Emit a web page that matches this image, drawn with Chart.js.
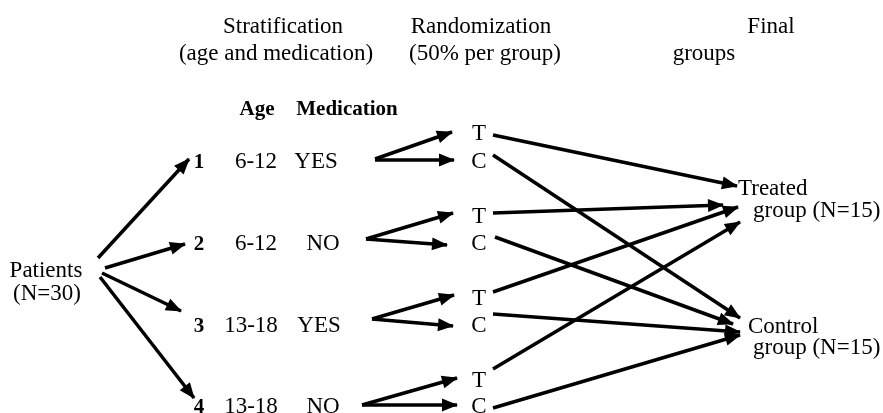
<!DOCTYPE html>
<html>
<head>
<meta charset="utf-8">
<title>Stratified randomization</title>
<script src="https://cdn.jsdelivr.net/npm/chart.js@4/dist/chart.umd.min.js"></script>
<style>
  body { margin: 0; background: #fff; font-family: "Liberation Serif", serif; }
  #wrap { width: 883px; height: 413px; }
  .warm { position: absolute; left: -999px; top: 0; font-family: "Liberation Serif"; }
</style>
</head>
<body>
<span class="warm">Stratification <b>Age</b></span>
<div id="wrap"><canvas id="flow" width="883" height="413"></canvas></div>
<script>
// diagram content
const headerTop = ['Stratification', 'Randomization', 'Final'];
const headerBottom = ['(age and medication)', '(50% per group)', 'groups'];
const columnHeads = ['Age', 'Medication'];
const patients = ['Patients', '(N=30)'];
const strata = ['1', '2', '3', '4'];
const ageGroups = ['6-12', '6-12', '13-18', '13-18'];
const medication = ['YES', 'NO', 'YES', 'NO'];
const arms = ['T', 'C'];
const finalGroups = [['Treated', 'group (N=15)'], ['Control', 'group (N=15)']];

// layout in diagram units (x 0..883, y 0..413 from top)
const headerX = [[283, 276], [481, 485], [771, 704]];
const headerY = [33, 60];
const columnHeadX = [257, 347];
const columnHeadY = 115;
const patientsX = [46, 47];
const patientsY = [277, 300];
const stratumX = 199;
const ageX = [256, 256, 251, 251];
const medX = [316, 323, 319, 323];
const rowY = [168, 250, 332, 413];
const armX = 479;
const armY = [[140, 168], [223, 250], [305, 332], [387, 413]];
const finalX = [[738, 753], [748, 753]];
const finalY = [[195, 217], [333, 354]];

// arrows: [from, to]
const patientArrows = [
  [[98, 258], [189, 159]],
  [[105, 268], [185, 244]],
  [[102, 273], [181, 311]],
  [[100, 277], [194, 398]]
];
const splitArrows = [
  [[375, 159], [452, 132]], [[375, 160], [454, 160]],
  [[366, 239], [453, 213]], [[366, 239], [447, 245]],
  [[372, 319], [454, 295]], [[372, 319], [453, 326]],
  [[362, 405], [457, 378]], [[362, 405], [457, 405]]
];
const finalArrows = [
  [[493, 135], [737, 186]], [[493, 155], [740, 318]],
  [[493, 213], [723, 205]], [[495, 237], [733, 324]],
  [[493, 292], [738, 207]], [[493, 314], [740, 332]],
  [[493, 369], [740, 222]], [[493, 408], [740, 335]]
];

const allArrows = patientArrows.concat(splitArrows, finalArrows);

const datasets = allArrows.map(a => ({
  data: [{ x: a[0][0], y: a[0][1] }, { x: a[1][0], y: a[1][1] }],
  showLine: true,
  borderColor: '#000',
  borderWidth: 3.5,
  pointRadius: 0,
  borderCapStyle: 'butt'
}));

// arrow heads at the end of every line
const arrowHeads = {
  id: 'arrowHeads',
  afterDatasetsDraw(chart) {
    const ctx = chart.ctx;
    chart.data.datasets.forEach((ds, i) => {
      const pts = chart.getDatasetMeta(i).data;
      const p0 = pts[0], p1 = pts[1];
      const ang = Math.atan2(p1.y - p0.y, p1.x - p0.x);
      const len = 15, half = 6.5;
      ctx.save();
      ctx.translate(p1.x, p1.y);
      ctx.rotate(ang);
      ctx.fillStyle = '#000';
      ctx.beginPath();
      ctx.moveTo(1, 0);
      ctx.lineTo(-len, -half);
      ctx.lineTo(-len, half);
      ctx.closePath();
      ctx.fill();
      ctx.restore();
    });
  }
};

// all the text of the diagram
const labels = {
  id: 'labels',
  afterDatasetsDraw(chart) {
    const ctx = chart.ctx;
    const sx = v => chart.scales.x.getPixelForValue(v);
    const sy = v => chart.scales.y.getPixelForValue(v);
    const normal = '23px "Liberation Serif", "Times New Roman", "DejaVu Serif", serif';
    const bold = 'bold 21px "Liberation Serif", "Times New Roman", "DejaVu Serif", serif';
    const put = (t, x, y, font, align) => {
      ctx.font = font;
      ctx.textAlign = align || 'center';
      ctx.fillText(t, sx(x), sy(y));
    };
    ctx.save();
    ctx.fillStyle = '#000';
    ctx.textBaseline = 'alphabetic';

    headerTop.forEach((t, i) => put(t, headerX[i][0], headerY[0], normal));
    headerBottom.forEach((t, i) => put(t, headerX[i][1], headerY[1], normal));
    columnHeads.forEach((t, i) => put(t, columnHeadX[i], columnHeadY, bold));
    patients.forEach((t, i) => put(t, patientsX[i], patientsY[i], normal));

    strata.forEach((s, i) => {
      put(s, stratumX, rowY[i], bold);
      put(ageGroups[i], ageX[i], rowY[i], normal);
      put(medication[i], medX[i], rowY[i], normal);
      arms.forEach((a, j) => put(a, armX, armY[i][j], normal));
    });

    finalGroups.forEach((g, i) => {
      g.forEach((t, j) => put(t, finalX[i][j], finalY[i][j], normal, 'left'));
    });
    ctx.restore();
  }
};

function draw() {
  new Chart(document.getElementById('flow'), {
    type: 'scatter',
    data: { datasets: datasets },
    options: {
      responsive: false,
      animation: false,
      layout: { padding: 0 },
      plugins: { legend: { display: false }, tooltip: { enabled: false } },
      scales: {
        x: { type: 'linear', min: 0, max: 883, display: false },
        y: { type: 'linear', min: 0, max: 413, reverse: true, display: false }
      }
    },
    plugins: [arrowHeads, labels]
  });
}

// make sure the serif face is ready before the canvas text is drawn
Promise.all([
  document.fonts.load('23px "Liberation Serif"'),
  document.fonts.load('bold 21px "Liberation Serif"')
]).then(draw, draw);
</script>
</body>
</html>
